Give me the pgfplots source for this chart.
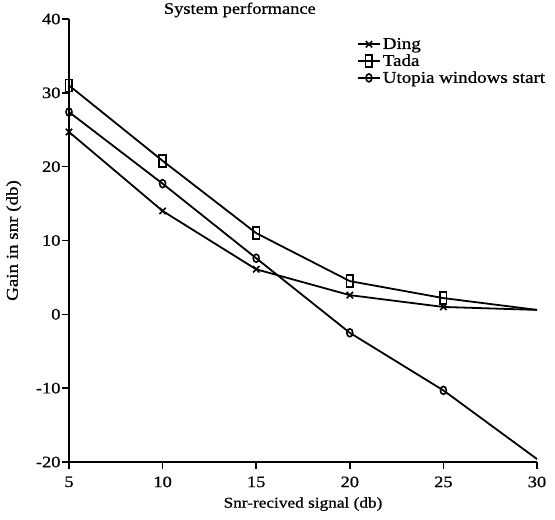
\documentclass[border=0pt]{standalone}
\usepackage{fontspec}
\setmainfont{Liberation Serif}[FakeStretch=1.15, FakeBold=0.8]
\usepackage{pgfplots}
\pgfplotsset{compat=1.18}
\begin{document}
\begin{tikzpicture}
\begin{axis}[
  scale only axis,
  width=468pt, height=443pt,
  xmin=5, xmax=30, ymin=-20, ymax=40,
  xtick={5,10,15,20,25,30},
  ytick={-20,-10,0,10,20,30,40},
  axis x line*=bottom, axis y line*=left,
  axis line style={line width=2pt},
  tick style={line width=1.6pt, black},
  major tick length=7pt,
  tick align=outside,
  /pgf/number format/assume math mode=true,
  ticklabel style={font=\fontsize{16}{19}\selectfont},
  x tick label style={yshift=-4pt},
  y tick label style={xshift=2pt},
  xlabel={Snr-recived signal (db)},
  ylabel={Gain in snr (db)},
  xlabel style={at={(axis description cs:0.5,-0.095)}, anchor=center, font=\fontsize{15}{18}\selectfont},
  ylabel style={at={(axis description cs:-0.118,0.5)}, anchor=center, font=\fontsize{16.5}{19}\selectfont},
  title={System performance},
  title style={at={(axis description cs:0.365,1.007)}, anchor=center, font=\fontsize{16}{19}\selectfont},
  clip=false,
  legend style={draw=none, fill=none, at={(axis description cs:0.615,0.962)}, anchor=north west,
    font=\fontsize{16.5}{16.5}\selectfont, inner sep=0pt, row sep=0pt,
    /tikz/every even column/.append style={column sep=2pt}},
  legend cell align=left,
  legend image code/.code={\draw[#1, mark indices={2}] plot coordinates {(0pt,0pt) (11pt,0pt) (22pt,0pt)};},
  every axis plot/.append style={black, line width=1.8pt, mark indices={1,2,3,4,5}},
]
\addplot[mark=x, mark size=4.5pt, mark options={line width=1.6pt}] coordinates {(5,24.7)(10,14)(15,6.1)(20,2.6)(25,1.0)(30,0.6)};
\addlegendentry{Ding}
\addplot[mark=square, mark size=6pt, mark options={xscale=0.55, line width=1.6pt, fill=white}] coordinates {(5,31)(10,20.8)(15,11)(20,4.5)(25,2.2)(30,0.6)};
\addlegendentry{Tada}
\addplot[mark=o, mark size=4pt, mark options={xscale=0.75, line width=1.6pt, fill=white}] coordinates {(5,27.4)(10,17.7)(15,7.6)(20,-2.5)(25,-10.3)(30,-19.6)};
\addlegendentry{Utopia windows start}
\end{axis}
\pgfresetboundingbox
\useasboundingbox (-69pt,-58pt) rectangle (486pt,462pt);
\end{tikzpicture}
\end{document}
